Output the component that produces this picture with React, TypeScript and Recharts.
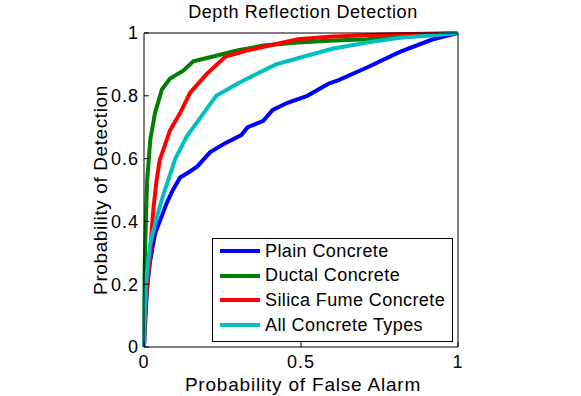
import { LineChart, Line, XAxis, YAxis, Label, Legend } from "recharts";

// ─── Data ───────────────────────────────────────────────────────────────────

const PLAIN_PFA = [0, 0.003, 0.008, 0.012, 0.019, 0.035, 0.05, 0.073, 0.092, 0.115, 0.14, 0.17, 0.21, 0.26, 0.31, 0.33, 0.38, 0.41, 0.455, 0.52, 0.59, 0.62, 0.71, 0.815, 0.92, 1];
const PLAIN_PD = [0, 0.06, 0.16, 0.21, 0.27, 0.36, 0.4, 0.46, 0.5, 0.54, 0.555, 0.575, 0.62, 0.65, 0.675, 0.7, 0.72, 0.755, 0.777, 0.8, 0.84, 0.85, 0.89, 0.94, 0.98, 1];

const DUCTAL_PFA = [0, 0.001, 0.002, 0.006, 0.01, 0.02, 0.035, 0.057, 0.083, 0.125, 0.157, 0.22, 0.3, 0.38, 0.49, 0.59, 0.71, 0.85, 1];
const DUCTAL_PD = [0, 0.12, 0.25, 0.4, 0.53, 0.66, 0.745, 0.82, 0.855, 0.88, 0.91, 0.925, 0.945, 0.96, 0.97, 0.975, 0.98, 0.99, 1];

const SILICA_PFA = [0, 0.002, 0.01, 0.02, 0.025, 0.03, 0.04, 0.05, 0.083, 0.115, 0.147, 0.2, 0.26, 0.33, 0.4, 0.49, 0.59, 0.7, 0.8, 0.9, 1];
const SILICA_PD = [0, 0.08, 0.2, 0.29, 0.38, 0.44, 0.53, 0.595, 0.69, 0.745, 0.81, 0.87, 0.925, 0.945, 0.96, 0.98, 0.988, 0.993, 0.996, 0.998, 1];

const ALL_PFA = [0, 0.002, 0.005, 0.01, 0.02, 0.04, 0.06, 0.08, 0.1, 0.136, 0.19, 0.23, 0.3, 0.36, 0.42, 0.51, 0.6, 0.71, 0.815, 0.92, 1];
const ALL_PD = [0, 0.1, 0.18, 0.245, 0.33, 0.41, 0.48, 0.54, 0.6, 0.67, 0.745, 0.8, 0.84, 0.87, 0.9, 0.925, 0.95, 0.97, 0.985, 0.993, 1];

const X_TICKS = [0, 0.5, 1];
const Y_TICKS = [0, 0.2, 0.4, 0.6, 0.8, 1];

const toPoints = (xs: number[], ys: number[]) => xs.map((x, i) => ({ x, y: ys[i] }));

const SERIES = [
  { name: "Plain Concrete", color: "#0000FF", data: toPoints(PLAIN_PFA, PLAIN_PD) },
  { name: "Ductal Concrete", color: "#008000", data: toPoints(DUCTAL_PFA, DUCTAL_PD) },
  { name: "Silica Fume Concrete", color: "#FF0000", data: toPoints(SILICA_PFA, SILICA_PD) },
  { name: "All Concrete Types", color: "#00BFBF", data: toPoints(ALL_PFA, ALL_PD) },
];

const FONT = "'Liberation Sans', Arial, Helvetica, sans-serif";
const tickStyle = { fontSize: 18, fill: "#000", fontFamily: FONT, letterSpacing: 1 };

// ─── Legend ─────────────────────────────────────────────────────────────────

function BoxLegend() {
  return (
    <div
      style={{
        width: 239,
        height: 102,
        border: "1px solid #000",
        background: "#fff",
        fontFamily: FONT,
        fontSize: 18,
        color: "#000",
      }}
    >
      {SERIES.map((s) => (
        <div
          key={s.name}
          style={{ height: 24.6, display: "flex", alignItems: "center", paddingLeft: 7 }}
        >
          <div style={{ width: 40, height: 4, background: s.color, marginRight: 5 }} />
          <span style={{ letterSpacing: 0.4, whiteSpace: "nowrap" }}>{s.name}</span>
        </div>
      ))}
    </div>
  );
}

// ─── Chart ──────────────────────────────────────────────────────────────────

export default function App() {
  return (
    <div style={{ position: "absolute", left: 0, top: 0, background: "#fff" }}>
      <LineChart
        width={581}
        height={396}
        margin={{ top: 32, right: 122, bottom: 19, left: 104 }}
      >
        <XAxis
          dataKey="x"
          type="number"
          domain={[0, 1]}
          ticks={X_TICKS}
          height={30}
          stroke="#000"
          tickSize={-5}
          tickMargin={13}
          tick={tickStyle}
          interval={0}
        >
          <Label
            value="Probability of False Alarm"
            position="insideTop"
            offset={31}
            dx={2}
            style={{ fontSize: 19, fill: "#000", fontFamily: FONT, letterSpacing: 0.8 }}
          />
        </XAxis>
        <XAxis
          xAxisId="top"
          orientation="top"
          type="number"
          domain={[0, 1]}
          ticks={X_TICKS}
          height={1}
          stroke="#000"
          tickSize={-5}
          tick={false}
          interval={0}
        >
          <Label
            value="Depth Reflection Detection"
            position="top"
            offset={14}
            dx={2}
            style={{ fontSize: 18, fill: "#000", fontFamily: FONT, letterSpacing: 0.6 }}
          />
        </XAxis>
        <YAxis
          type="number"
          domain={[0, 1]}
          ticks={Y_TICKS}
          width={40}
          stroke="#000"
          tickSize={-5}
          tickMargin={10}
          tick={tickStyle}
          interval={0}
        >
          <Label
            value="Probability of Detection"
            angle={-90}
            position="insideLeft"
            offset={-4}
            style={{ fontSize: 19, fill: "#000", fontFamily: FONT, letterSpacing: 0.6, textAnchor: "middle" }}
          />
        </YAxis>
        <YAxis
          yAxisId="right"
          orientation="right"
          type="number"
          domain={[0, 1]}
          ticks={Y_TICKS}
          width={1}
          stroke="#000"
          tickSize={-5}
          tick={false}
          interval={0}
        />
        {SERIES.map((s) => (
          <Line
            key={s.name}
            data={s.data}
            dataKey="y"
            name={s.name}
            type="linear"
            stroke={s.color}
            strokeWidth={4}
            dot={false}
            activeDot={false}
            isAnimationActive={false}
          />
        ))}
        <Legend
          layout="vertical"
          align="center"
          verticalAlign="middle"
          content={<BoxLegend />}
          wrapperStyle={{ left: 212, top: 238, width: 241, height: 104 }}
        />
      </LineChart>
    </div>
  );
}
